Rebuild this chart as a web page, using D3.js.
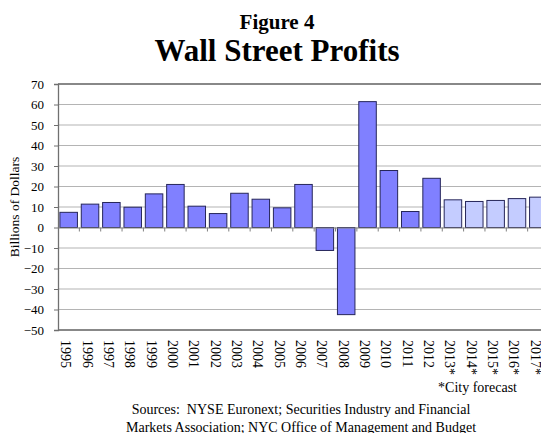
<!DOCTYPE html>
<html>
<head>
<meta charset="utf-8">
<script src="https://cdn.jsdelivr.net/npm/d3@7"></script>
<style>
  body { margin: 0; background: #fff; }
  svg { font-family: "Liberation Serif", "Times New Roman", serif; }
</style>
</head>
<body>
<div id="vis-container"></div>
<script>
// data
years = ["1995","1996","1997","1998","1999","2000","2001","2002","2003","2004","2005","2006","2007","2008","2009","2010","2011","2012","2013*","2014*","2015*","2016*","2017*"]
profits = [7.4,11.4,12.2,9.9,16.4,21.0,10.4,6.8,16.7,13.8,9.6,21.0,-11.2,-42.5,61.4,27.8,7.8,24.0,13.5,12.7,13.2,14.1,14.8]
forecast = [false,false,false,false,false,false,false,false,false,false,false,false,false,false,false,false,false,false,true,true,true,true,true]
yTicks = [70,60,50,40,30,20,10,0,-10,-20,-30,-40,-50]

chart = {
  "width": 541, "height": 433,
  "plot": {"left": 58, "right": 549, "top": 84, "bottom": 330},
  "scale": {
    "x": d3.scaleBand(),
    "y": d3.scaleLinear().domain([-50,70])
  }
}

function drawChart(){
  let p = chart.plot;
  chart.scale.x.domain(years).range([p.left, p.right]).paddingInner(0.18).paddingOuter(0.09);
  chart.scale.y.range([p.bottom, p.top]);
  let x = chart.scale.x, y = chart.scale.y;

  let svg = d3.select("#vis-container").append("svg")
    .attr("width", chart.width).attr("height", chart.height);

  // titles
  svg.append("text").attr("x", 277).attr("y", 29).attr("text-anchor","middle")
    .style("font-weight","bold").style("font-size","21px").text("Figure 4");
  svg.append("text").attr("x", 277).attr("y", 61).attr("text-anchor","middle")
    .style("font-weight","bold").style("font-size","31px").text("Wall Street Profits");

  // gridlines
  svg.append("g").selectAll("line")
    .data(yTicks.filter(d => d != 70 && d != -50 && d != 0))
    .enter().append("line")
    .attr("x1", p.left).attr("x2", chart.width)
    .attr("y1", d => y(d)).attr("y2", d => y(d))
    .attr("stroke", "#b4b4b4").attr("stroke-width", 1.2);

  // top and bottom frame lines
  svg.append("line").attr("x1", p.left).attr("x2", chart.width)
    .attr("y1", y(70)).attr("y2", y(70)).attr("stroke", "#606060").attr("stroke-width", 1.3);
  svg.append("line").attr("x1", p.left).attr("x2", chart.width)
    .attr("y1", y(-50)).attr("y2", y(-50)).attr("stroke", "#606060").attr("stroke-width", 1.3);

  // y axis
  let yAxis = d3.axisLeft(y).tickValues(yTicks).tickSize(4).tickFormat(d3.format("d"));
  let yg = svg.append("g").attr("transform", "translate(" + p.left + ",0)").call(yAxis);
  yg.select(".domain").attr("stroke", "#707070").attr("stroke-width", 1.3);
  yg.selectAll(".tick line").attr("stroke", "#707070");
  yg.selectAll("text").style("font-family", "Liberation Serif").style("font-size", "13px")
    .attr("fill", "#000").attr("x", -14);

  svg.append("text")
    .attr("transform", "translate(19," + ((p.top + p.bottom) / 2) + ") rotate(-90)")
    .attr("text-anchor", "middle").style("font-size", "13.5px").text("Billions of Dollars");

  // bars
  svg.append("g").selectAll("rect")
    .data(years)
    .enter().append("rect")
    .attr("x", d => x(d))
    .attr("width", x.bandwidth())
    .attr("y", (d,i) => y(Math.max(0, profits[i])))
    .attr("height", (d,i) => Math.abs(y(profits[i]) - y(0)))
    .attr("fill", (d,i) => forecast[i] ? "#c4ccff" : "#8080ff")
    .attr("stroke", "#26265a").attr("stroke-width", 1);

  // zero axis with category separators
  let xAxis = d3.axisBottom(x).tickSize(0).tickFormat("");
  let xg = svg.append("g").attr("transform", "translate(0," + y(0) + ")").call(xAxis);
  xg.select(".domain").attr("stroke", "#808080").attr("stroke-width", 1.2);
  let step = x.step();
  xg.selectAll(".sep").data(years.slice(1)).enter().append("line")
    .attr("x1", (d,i) => p.left + step * (i + 1))
    .attr("x2", (d,i) => p.left + step * (i + 1))
    .attr("y1", 0).attr("y2", 4).attr("stroke", "#808080");

  // x labels, rotated to read downward
  svg.append("g").selectAll("text")
    .data(years)
    .enter().append("text")
    .attr("transform", d => "translate(" + (x(d) + x.bandwidth() / 2 - 7.5) + "," + (p.bottom + 10) + ") rotate(90)")
    .attr("text-anchor", "start").style("font-size", "14px").text(d => d);

  svg.append("text").attr("x", 517).attr("y", 392).attr("text-anchor", "end")
    .style("font-size", "14px").text("*City forecast");

  svg.append("text").attr("x", 301).attr("y", 414).attr("text-anchor", "middle")
    .style("font-size", "14px").style("white-space", "pre")
    .text("Sources:  NYSE Euronext; Securities Industry and Financial");
  svg.append("text").attr("x", 301).attr("y", 432).attr("text-anchor", "middle")
    .style("font-size", "14px").text("Markets Association; NYC Office of Management and Budget");
}

drawChart();
</script>
</body>
</html>
